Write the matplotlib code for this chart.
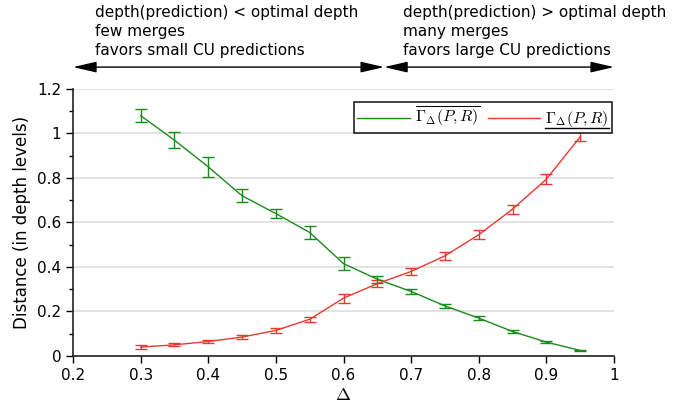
import numpy as np
import matplotlib
matplotlib.use('Agg')
import matplotlib.pyplot as plt
from matplotlib.lines import Line2D

# values
delta = [0.3, 0.35, 0.4, 0.45, 0.5, 0.55, 0.6, 0.65, 0.7, 0.75, 0.8, 0.85, 0.9, 0.95]
over_mean = [1.08, 0.97, 0.85, 0.72, 0.64, 0.555, 0.415, 0.345, 0.29, 0.225, 0.17, 0.11, 0.062, 0.025]
over_err = [0.03, 0.035, 0.045, 0.03, 0.02, 0.03, 0.03, 0.015, 0.01, 0.01, 0.008, 0.006, 0.005, 0.003]
under_mean = [0.04, 0.05, 0.065, 0.085, 0.115, 0.165, 0.26, 0.325, 0.38, 0.45, 0.545, 0.66, 0.795, 0.985]
under_err = [0.008, 0.007, 0.008, 0.008, 0.01, 0.012, 0.02, 0.015, 0.015, 0.018, 0.02, 0.02, 0.022, 0.02]
yticks = [0, 0.2, 0.4, 0.6, 0.8, 1.0, 1.2]
ytick_labels = ['0', '0.2', '0.4', '0.6', '0.8', '1', '1.2']
xticks = [0.2, 0.3, 0.4, 0.5, 0.6, 0.7, 0.8, 0.9, 1.0]
xtick_labels = ['0.2', '0.3', '0.4', '0.5', '0.6', '0.7', '0.8', '0.9', '1']
split_x = 0.66

GREEN = '#1a8a1a'
RED = '#e8392f'

plt.rcParams['font.size'] = 11
plt.rcParams['mathtext.fontset'] = 'cm'

fig = plt.figure(figsize=(6.85, 4.12), dpi=100)
ax = fig.add_axes([0.1066, 0.136, 0.7898, 0.648])

ax.errorbar(delta, over_mean, yerr=over_err, color=GREEN, lw=1.0,
            capsize=4, elinewidth=1.0, capthick=1.0)
ax.errorbar(delta, under_mean, yerr=under_err, color=RED, lw=1.0,
            capsize=4, elinewidth=1.0, capthick=1.0)

ax.set_xlim(0.2, 1.0)
ax.set_ylim(0, 1.2)
ax.set_xticks(xticks)
ax.set_xticklabels(xtick_labels)
ax.set_yticks(yticks)
ax.set_yticklabels(ytick_labels)
ax.set_yticks(np.arange(0.1, 1.2, 0.2), minor=True)
ax.tick_params(axis='both', direction='out', length=5, width=1, labelsize=11)
ax.tick_params(axis='y', which='minor', direction='out', length=3, width=1)
ax.grid(axis='y', color='#dddddd', lw=1.2)
ax.set_axisbelow(True)
for s in ['top', 'right']:
    ax.spines[s].set_visible(False)
for s in ['left', 'bottom']:
    ax.spines[s].set_linewidth(1.2)
    ax.spines[s].set_color('#222222')

ax.set_xlabel(r'$\Delta$', fontsize=13, labelpad=2)
ax.set_ylabel('Distance (in depth levels)', fontsize=12)

handles = [Line2D([], [], color=GREEN, lw=1.0), Line2D([], [], color=RED, lw=1.0)]
labels = [r'$\overline{\Gamma_\Delta(P,R)}$', r'$\Gamma_\Delta(P,R)$']
leg = ax.legend(handles, labels, loc='upper right', ncol=2, fancybox=False,
                framealpha=1, edgecolor='#222222', fontsize=11.5, handlelength=3.3,
                handletextpad=0.3, borderpad=0.2, columnspacing=0.5,
                borderaxespad=0, bbox_to_anchor=(0.996, 0.951))
leg.get_frame().set_linewidth(1.2)

# region arrows and captions above the plot
arrow_y = 1.082
astyle = '<|-|>,head_length=1.3,head_width=0.3'
ax.annotate('', xy=(0.2, arrow_y), xytext=(split_x, arrow_y),
            xycoords=('data', 'axes fraction'), annotation_clip=False,
            arrowprops=dict(arrowstyle=astyle, color='black', lw=1.0,
                            shrinkA=0, shrinkB=0))
ax.annotate('', xy=(split_x, arrow_y), xytext=(1.0, arrow_y),
            xycoords=('data', 'axes fraction'), annotation_clip=False,
            arrowprops=dict(arrowstyle=astyle, color='black', lw=1.0,
                            shrinkA=0, shrinkB=0))
ax.text(0.2325, 1.116, 'depth(prediction) < optimal depth\nfew merges\nfavors small CU predictions',
        transform=ax.get_xaxis_transform(), fontsize=11, va='bottom', ha='left',
        linespacing=1.32)
ax.text(0.688, 1.116, 'depth(prediction) > optimal depth\nmany merges\nfavors large CU predictions',
        transform=ax.get_xaxis_transform(), fontsize=11, va='bottom', ha='left',
        linespacing=1.32)

# mathtext has no \underline, so draw it by hand under the second label
fig.canvas.draw()
bb = leg.get_texts()[1].get_window_extent().transformed(fig.transFigure.inverted())
fig.add_artist(Line2D([bb.x0, bb.x1], [bb.y0 + 0.004, bb.y0 + 0.004],
                      transform=fig.transFigure, color='black', lw=1.0))

fig.savefig('out.png', dpi=100)
